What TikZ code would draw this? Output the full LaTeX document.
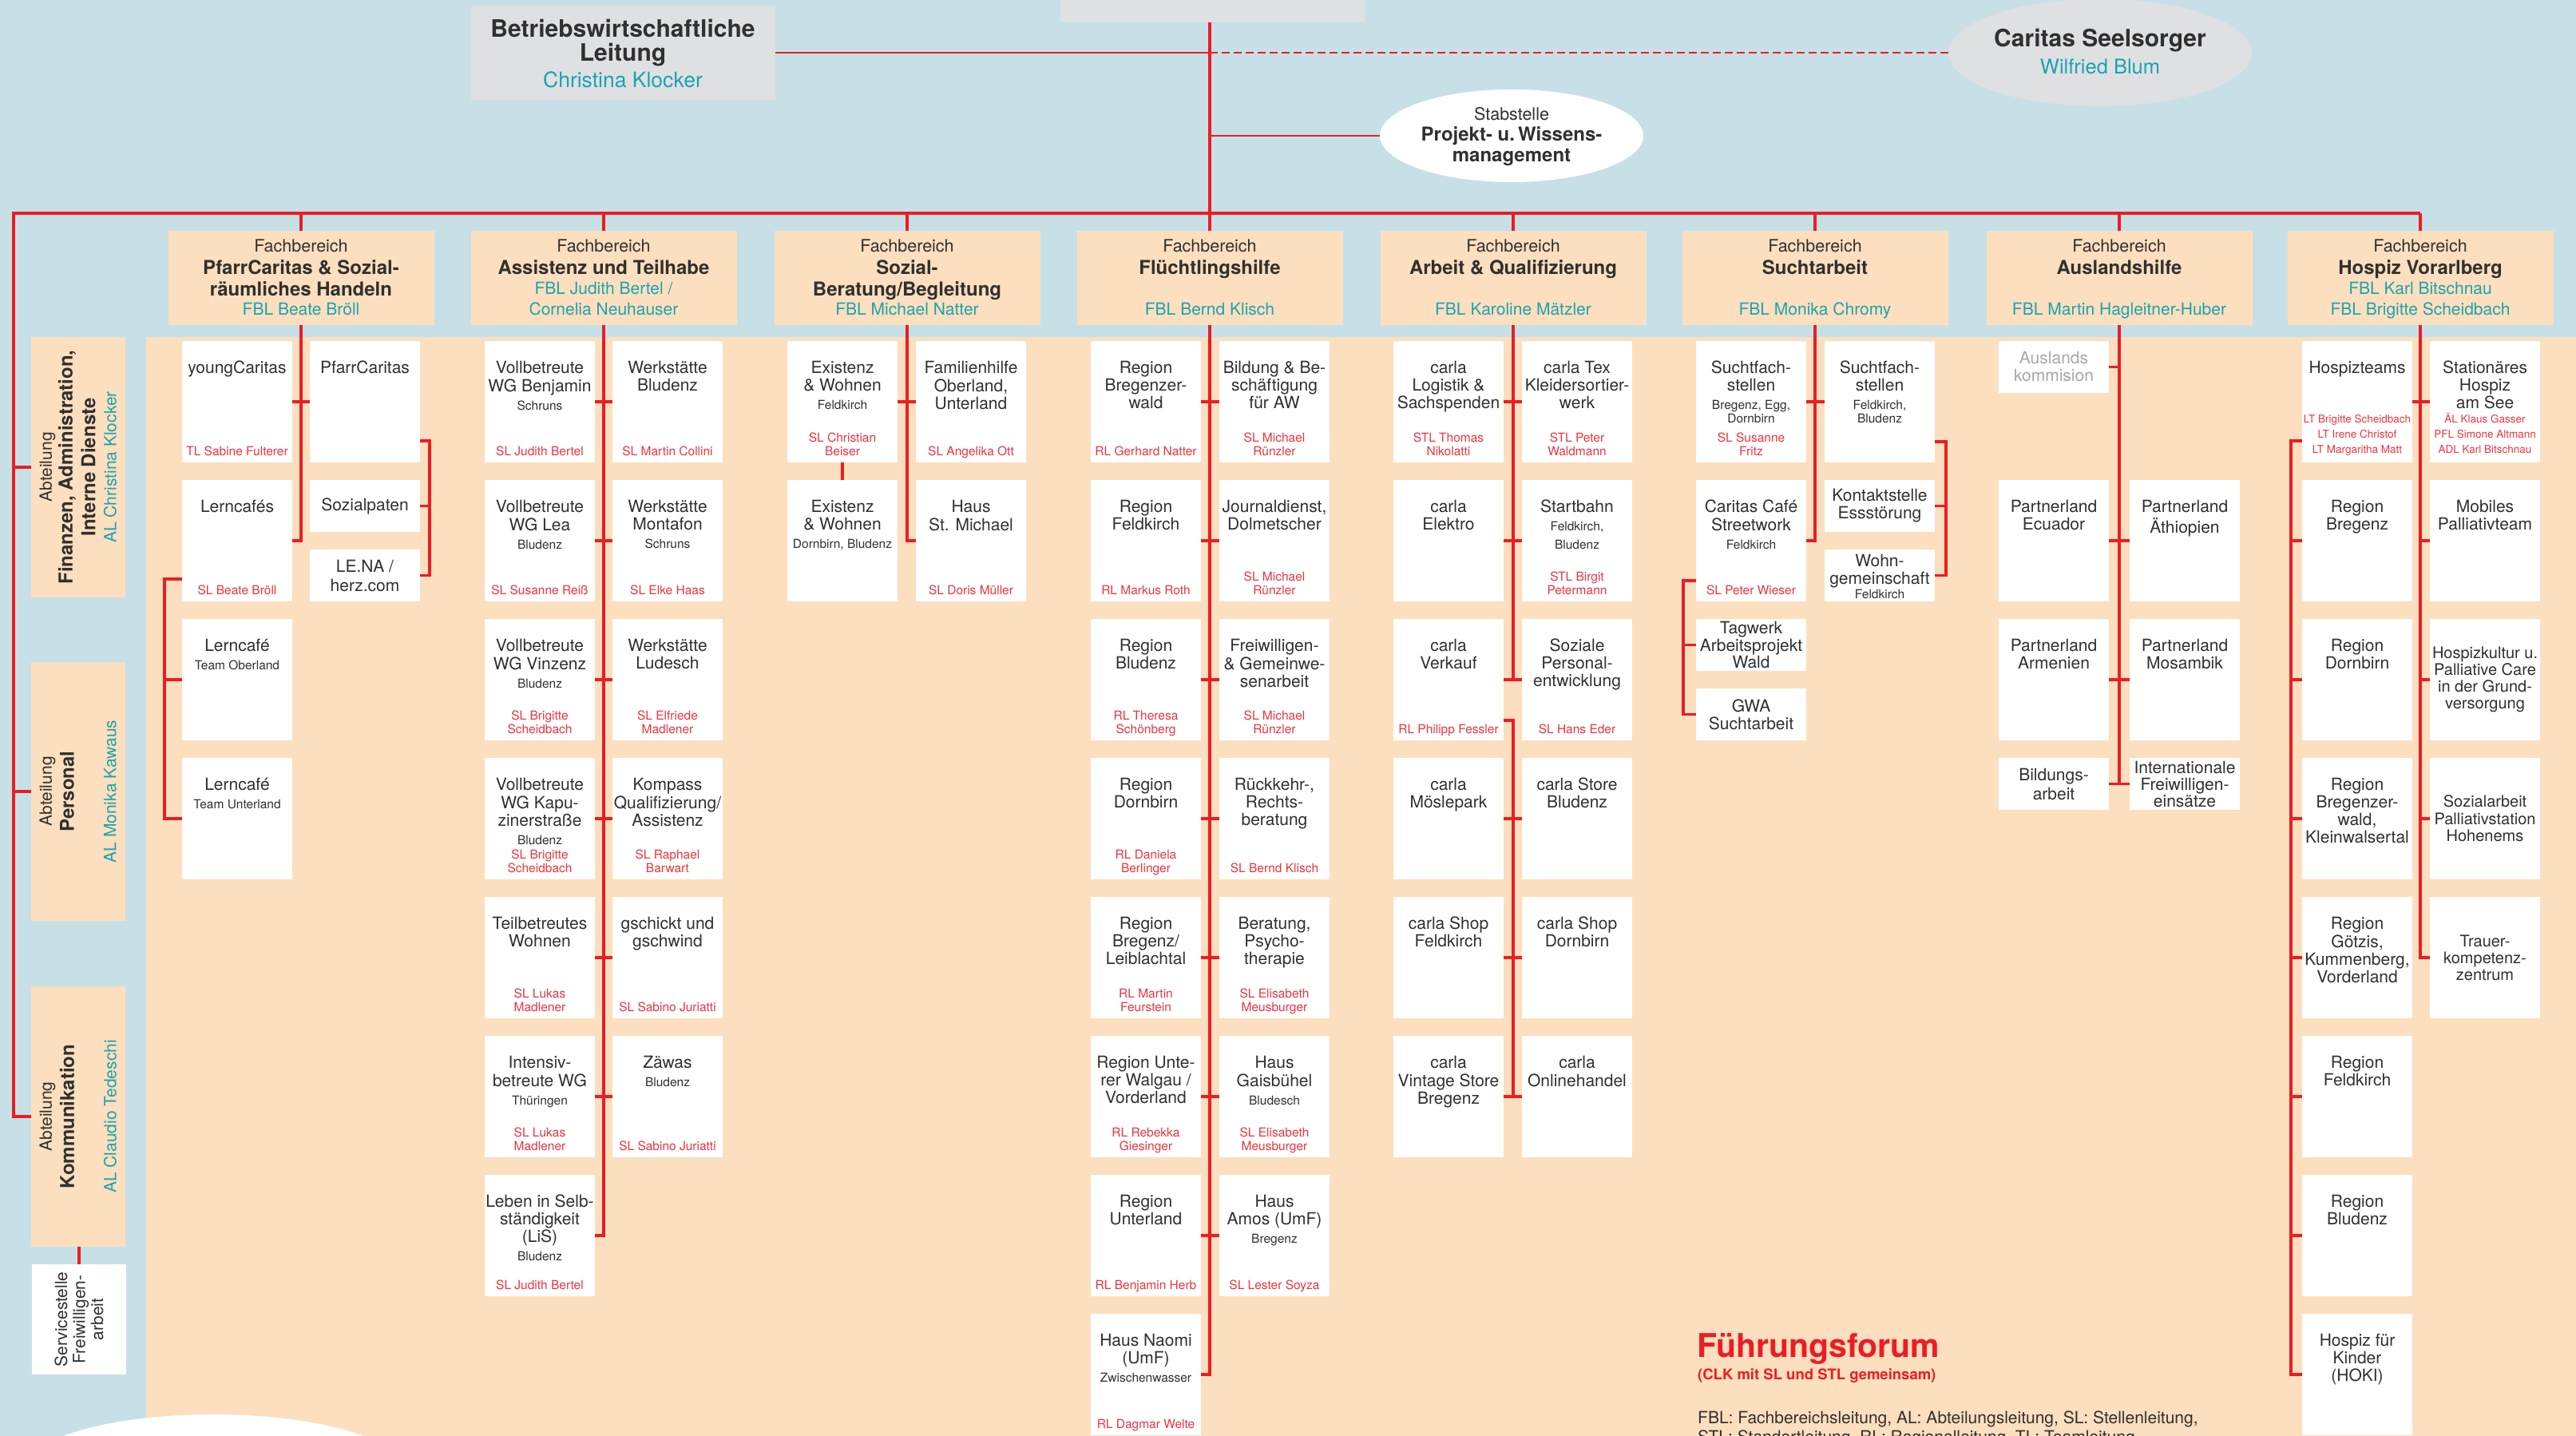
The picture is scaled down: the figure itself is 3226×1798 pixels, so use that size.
\documentclass[tikz,border=0pt]{standalone}
\usepackage{fontspec}
\setmainfont{TeX Gyre Heros}
\usetikzlibrary{shapes.geometric}
\definecolor{bgblue}{HTML}{C7E0E7}
\definecolor{peach}{HTML}{FCDFBE}
\definecolor{greybox}{HTML}{DFE0E2}
\definecolor{cred}{HTML}{ED1C24}
\definecolor{nred}{HTML}{EE3340}
\definecolor{tealtx}{HTML}{1BA3B1}
\definecolor{ink}{HTML}{303030}
\definecolor{faint}{HTML}{A5A8AB}
\tikzset{
  cellbox/.style={fill=white, draw=none, minimum width=138, inner sep=0, outer sep=0},
  ttl/.style={font=\fontsize{21}{22}\selectfont, text=ink, align=center, inner sep=0},
  subt/.style={font=\fontsize{15.5}{17}\selectfont, text=ink, align=center, inner sep=0},
  nm/.style={font=\fontsize{15.5}{17}\selectfont, text=nred, align=center, inner sep=0},
  nmsmall/.style={font=\fontsize{13.5}{19}\selectfont, text=nred, align=center, inner sep=0},
  link/.style={draw=cred, line width=3.5},
  buslink/.style={draw=cred, line width=4.5},
  toplink/.style={draw=cred, line width=2.5},
  fbbox/.style={fill=peach, minimum width=333, minimum height=118, inner sep=0},
  fbsmall/.style={font=\fontsize{21.5}{24}\selectfont, text=ink, inner sep=0},
  fbtitle/.style={font=\bfseries\fontsize{24}{27}\selectfont, text=ink, align=center, inner sep=0},
  fbl/.style={font=\fontsize{21}{26.5}\selectfont, text=tealtx, align=center, inner sep=0},
  abtbox/.style={fill=peach, minimum width=118, inner sep=0},
  abtreg/.style={font=\fontsize{21}{22}\selectfont, text=ink, rotate=90, inner sep=0},
  abtbold/.style={font=\bfseries\fontsize{24}{26}\selectfont, text=ink, rotate=90, inner sep=0},
  abtal/.style={font=\fontsize{21}{22}\selectfont, text=tealtx, rotate=90, inner sep=0},
}
% cell: name, cx, top, height, title, red
\newcommand\ocell[6]{%
  \node[cellbox, minimum height=#4] (#1) at (#2,#3+#4/2) {};
  \node[ttl, anchor=north] (#1t) at (#2,#3+24.6) {\strut#5\strut};
  \if\relax\detokenize{#6}\relax\else
  \node[nm, anchor=south] at (#2,#3+#4-3) {\strut#6\strut};\fi}
% sub text below title
\newcommand\osub[3][]{%
  \node[subt, anchor=north, yshift=-4pt, #1] at (#2t.south) {\strut#3\strut};}
% centered cell
\newcommand\ocellc[6][]{%
  \node[cellbox, ttl, minimum height=#5, #1] (#2) at (#3,#4+#5/2) {#6};}
% Fachbereich box
\newcommand\ofb[4]{%
  \node[fbbox] (#1) at (#2,348) {};
  \node[fbsmall, anchor=base] at (#2,315) {Fachbereich};
  \node[fbtitle, anchor=north] at (#2,324.1) {\strut#3\strut};
  \node[fbl, anchor=south] at (#2,402.9) {\strut#4\strut};}

\begin{document}
\begin{tikzpicture}[x=1pt,y=-1pt]
\useasboundingbox (0,0) rectangle (3226,1798);
\fill[bgblue] (0,0) rectangle (3226,1798);
\fill[peach] (183,422) rectangle (3226,1798);
\fill[white] (267,1838) ellipse [x radius=234, y radius=67];

% ---------- top ----------
\node[fill=greybox, minimum width=381, minimum height=28, inner sep=0] (gf) at (1518.5,14) {};
\node[fill=greybox, minimum width=381, minimum height=118, inner sep=0] (bwl) at (780,66) {};
\node[anchor=base, font=\bfseries\fontsize{30}{31}\selectfont, text=ink, inner sep=0] at (780,47) {Betriebswirtschaftliche};
\node[anchor=base, font=\bfseries\fontsize{30}{31}\selectfont, text=ink, inner sep=0] at (780,77) {Leitung};
\node[anchor=base, font=\fontsize{26.5}{28}\selectfont, text=tealtx, inner sep=0] at (780,110) {Christina Klocker};

\node[ellipse, fill=greybox, minimum width=380, minimum height=134, inner sep=0] (cs) at (2630,66) {};
\node[anchor=base, font=\bfseries\fontsize{30}{31}\selectfont, text=ink, inner sep=0] at (2630,58.6) {Caritas Seelsorger};
\node[anchor=base, font=\fontsize{25.5}{27}\selectfont, text=tealtx, inner sep=0] at (2630,93) {Wilfried Blum};

\node[ellipse, fill=white, minimum width=330, minimum height=116, inner sep=0] (pw) at (1893,170) {};
\node[anchor=base, font=\fontsize{21.5}{23}\selectfont, text=ink, inner sep=0] at (1893,151) {Stabstelle};
\node[anchor=base, font=\bfseries\fontsize{24}{26.5}\selectfont, text=ink, inner sep=0] at (1893,176.6) {Projekt- u.\,Wissens-};
\node[anchor=base, font=\bfseries\fontsize{24}{26.5}\selectfont, text=ink, inner sep=0] at (1893,203) {management};

% ---------- Fachbereiche ----------
\ofb{fb1}{377}{PfarrCaritas \& Sozial-\\räumliches Handeln}{FBL Beate Bröll}
\ofb{fb2}{756}{Assistenz und Teilhabe}{FBL Judith Bertel /\\Cornelia Neuhauser}
\ofb{fb3}{1136}{Sozial-\\Beratung/Begleitung}{FBL Michael Natter}
\ofb{fb4}{1515}{Flüchtlingshilfe}{FBL Bernd Klisch}
\ofb{fb5}{1895}{Arbeit \& Qualifizierung}{FBL Karoline Mätzler}
\ofb{fb6}{2273}{Suchtarbeit}{FBL Monika Chromy}
\ofb{fb7}{2654}{Auslandshilfe}{FBL Martin Hagleitner-Huber}
\ofb{fb8}{3031}{Hospiz Vorarlberg}{FBL Karl Bitschnau\\FBL Brigitte Scheidbach}

% ---------- Abteilungen ----------
\node[abtbox, minimum height=326] (fin) at (98,585) {};
\node[abtreg] at (59.5,585) {Abteilung};
\node[abtbold] at (84,585) {Finanzen, Administration,};
\node[abtbold] at (110.5,585) {Interne Dienste};
\node[abtal] at (138,585) {AL Christina Klocker};

\node[abtbox, minimum height=324] (pers) at (98,991) {};
\node[abtreg] at (59.5,991) {Abteilung};
\node[abtbold] at (84,991) {Personal};
\node[abtal] at (138,991) {AL Monika Kawaus};

\node[abtbox, minimum height=326] (komm) at (98,1398) {};
\node[abtreg] at (59.5,1398) {Abteilung};
\node[abtbold] at (84,1398) {Kommunikation};
\node[abtal] at (138,1398) {AL Claudio Tedeschi};

\node[fill=white, minimum width=118, minimum height=138, inner sep=0] (serv) at (99,1652) {};
\node[rotate=90, align=center, font=\fontsize{21}{22.5}\selectfont, text=ink, inner sep=0] at (99,1652) {Servicestelle\\Freiwilligen-\\arbeit};

% ---------- FB1 PfarrCaritas ----------
\ocell{pa1}{297}{427}{152}{youngCaritas}{TL Sabine Fulterer}
\ocell{pb1}{457}{427}{152}{PfarrCaritas}{}
\ocell{pa2}{297}{601}{152}{Lerncafés}{SL Beate Bröll}
\ocellc{pb2}{457}{601}{65}{Sozialpaten}
\ocellc[font=\fontsize{21}{24}\selectfont]{pb3}{457}{688}{65}{LE.NA /\\herz.com}
\ocell{pa3}{297}{775}{152}{Lerncafé}{}\osub{pa3}{Team Oberland}
\ocell{pa4}{297}{949}{152}{Lerncafé}{}\osub{pa4}{Team Unterland}

% ---------- FB2 Assistenz ----------
\ocell{aa1}{676}{427}{152}{Vollbetreute\\WG Benjamin}{SL Judith Bertel}\osub{aa1}{Schruns}
\ocell{ab1}{836}{427}{152}{Werkstätte\\Bludenz}{SL Martin Collini}
\ocell{aa2}{676}{601}{152}{Vollbetreute\\WG Lea}{SL Susanne Reiß}\osub{aa2}{Bludenz}
\ocell{ab2}{836}{601}{152}{Werkstätte\\Montafon}{SL Elke Haas}\osub{ab2}{Schruns}
\ocell{aa3}{676}{775}{152}{Vollbetreute\\WG Vinzenz}{SL Brigitte\\Scheidbach}\osub{aa3}{Bludenz}
\ocell{ab3}{836}{775}{152}{Werkstätte\\Ludesch}{SL Elfriede\\Madlener}
\ocell{aa4}{676}{949}{152}{Vollbetreute\\WG Kapu-\\zinerstraße}{SL Brigitte\\Scheidbach}\osub{aa4}{Bludenz}
\ocell{ab4}{836}{949}{152}{Kompass\\Qualifizierung/\\Assistenz}{SL Raphael\\Barwart}
\ocell{aa5}{676}{1123}{152}{Teilbetreutes\\Wohnen}{SL Lukas\\Madlener}
\ocell{ab5}{836}{1123}{152}{gschickt und\\gschwind}{SL Sabino Juriatti}
\ocell{aa6}{676}{1297}{152}{Intensiv-\\betreute WG}{SL Lukas\\Madlener}\osub{aa6}{Thüringen}
\ocell{ab6}{836}{1297}{152}{Zäwas}{SL Sabino Juriatti}\osub{ab6}{Bludenz}
\ocell{aa7}{676}{1471}{152}{Leben in Selb-\\ständigkeit\\(LiS)}{SL Judith Bertel}\osub{aa7}{Bludenz}

% ---------- FB3 Sozial-Beratung ----------
\ocell{ba1}{1055}{427}{152}{Existenz\\\& Wohnen}{SL Christian\\Beiser}\osub{ba1}{Feldkirch}
\ocell{bb1}{1216}{427}{152}{Familienhilfe\\Oberland,\\Unterland}{SL Angelika Ott}
\ocell{ba2}{1055}{601}{152}{Existenz\\\& Wohnen}{}\osub{ba2}{Dornbirn, Bludenz}
\ocell{bb2}{1216}{601}{152}{Haus\\St. Michael}{SL Doris Müller}

% ---------- FB4 Flüchtlingshilfe ----------
\ocell{ca1}{1435}{427}{152}{Region\\Bregenzer-\\wald}{RL Gerhard Natter}
\ocell{cb1}{1596}{427}{152}{Bildung \& Be-\\schäftigung\\für AW}{SL Michael\\Rünzler}
\ocell{ca2}{1435}{601}{152}{Region\\Feldkirch}{RL Markus Roth}
\ocell{cb2}{1596}{601}{152}{Journaldienst,\\Dolmetscher}{SL Michael\\Rünzler}
\ocell{ca3}{1435}{775}{152}{Region\\Bludenz}{RL Theresa\\Schönberg}
\ocell{cb3}{1596}{775}{152}{Freiwilligen-\\\& Gemeinwe-\\senarbeit}{SL Michael\\Rünzler}
\ocell{ca4}{1435}{949}{152}{Region\\Dornbirn}{RL Daniela\\Berlinger}
\ocell{cb4}{1596}{949}{152}{Rückkehr-,\\Rechts-\\beratung}{SL Bernd Klisch}
\ocell{ca5}{1435}{1123}{152}{Region\\Bregenz/\\Leiblachtal}{RL Martin\\Feurstein}
\ocell{cb5}{1596}{1123}{152}{Beratung,\\Psycho-\\therapie}{SL Elisabeth\\Meusburger}
\ocell{ca6}{1435}{1297}{152}{Region Unte-\\rer Walgau /\\Vorderland}{RL Rebekka\\Giesinger}
\ocell{cb6}{1596}{1297}{152}{Haus\\Gaisbühel}{SL Elisabeth\\Meusburger}\osub{cb6}{Bludesch}
\ocell{ca7}{1435}{1471}{152}{Region\\Unterland}{RL Benjamin Herb}
\ocell{cb7}{1596}{1471}{152}{Haus\\Amos (UmF)}{SL Lester Soyza}\osub{cb7}{Bregenz}
\ocell{ca8}{1435}{1645}{152}{Haus Naomi\\(UmF)}{RL Dagmar Welte}\osub{ca8}{Zwischenwasser}

% ---------- FB5 Arbeit ----------
\ocell{da1}{1814}{427}{152}{carla\\Logistik \&\\Sachspenden}{STL Thomas\\Nikolatti}
\ocell{db1}{1975}{427}{152}{carla Tex\\Kleidersortier-\\werk}{STL Peter\\Waldmann}
\ocell{da2}{1814}{601}{152}{carla\\Elektro}{}
\ocell{db2}{1975}{601}{152}{Startbahn}{STL Birgit\\Petermann}\osub[font=\fontsize{15.5}{23}\selectfont, yshift=4pt]{db2}{Feldkirch,\\Bludenz}
\ocell{da3}{1814}{775}{152}{carla\\Verkauf}{RL Philipp Fessler}
\ocell{db3}{1975}{775}{152}{Soziale\\Personal-\\entwicklung}{SL Hans Eder}
\ocell{da4}{1814}{949}{152}{carla\\Möslepark}{}
\ocell{db4}{1975}{949}{152}{carla Store\\Bludenz}{}
\ocell{da5}{1814}{1123}{152}{carla Shop\\Feldkirch}{}
\ocell{db5}{1975}{1123}{152}{carla Shop\\Dornbirn}{}
\ocell{da6}{1814}{1297}{152}{carla\\Vintage Store\\Bregenz}{}
\ocell{db6}{1975}{1297}{152}{carla\\Onlinehandel}{}

% ---------- FB6 Suchtarbeit ----------
\ocell{ea1}{2193}{427}{152}{Suchtfach-\\stellen}{SL Susanne\\Fritz}\osub{ea1}{Bregenz, Egg,\\Dornbirn}
\ocell{eb1}{2354}{427}{152}{Suchtfach-\\stellen}{}\osub{eb1}{Feldkirch,\\Bludenz}
\ocell{ea2}{2193}{601}{152}{Caritas Café\\Streetwork}{SL Peter Wieser}\osub{ea2}{Feldkirch}
\ocellc{eb2}{2354}{601}{65}{Kontaktstelle\\Essstörung}
\node[cellbox, minimum height=65] (eb3) at (2354,720.5) {};
\node[ttl, anchor=north] at (2354,694) {\strut Wohn-\\gemeinschaft\strut};
\node[subt, anchor=base] at (2354,749.5) {Feldkirch};
\ocellc[font=\fontsize{21}{21.5}\selectfont]{ea3}{2193}{775}{65}{Tagwerk\\Arbeitsprojekt\\Wald}
\ocellc{ea4}{2193}{862}{65}{GWA\\Suchtarbeit}

% ---------- FB7 Auslandshilfe ----------
\ocellc[text=faint]{ga1}{2572}{427}{65}{Auslands\\kommision}
\ocell{ga2}{2572}{601}{152}{Partnerland\\Ecuador}{}
\ocell{gb2}{2736}{601}{152}{Partnerland\\Äthiopien}{}
\ocell{ga3}{2572}{775}{152}{Partnerland\\Armenien}{}
\ocell{gb3}{2736}{775}{152}{Partnerland\\Mosambik}{}
\ocellc[font=\fontsize{21}{24}\selectfont]{ga4}{2572}{949}{65}{Bildungs-\\arbeit}
\ocellc[font=\fontsize{21}{21}\selectfont]{gb4}{2736}{949}{65}{Internationale\\Freiwilligen-\\einsätze}

% ---------- FB8 Hospiz ----------
\ocell{ha1}{2952}{427}{152}{Hospizteams}{}
\node[nmsmall, anchor=south] at (2952,573.7) {\strut LT Brigitte Scheidbach\\LT Irene Christof\\LT Margaritha Matt\strut};
\ocell{hb1}{3112}{427}{152}{Stationäres\\Hospiz\\am See}{}
\node[nmsmall, anchor=south] at (3112,573.7) {\strut ÄL Klaus Gasser\\PFL Simone Altmann\\ADL Karl Bitschnau\strut};
\ocell{ha2}{2952}{601}{152}{Region\\Bregenz}{}
\ocell{hb2}{3112}{601}{152}{Mobiles\\Palliativteam}{}
\ocell{ha3}{2952}{775}{152}{Region\\Dornbirn}{}
\ocellc[font=\fontsize{20}{21}\selectfont]{hb3}{3112}{775}{152}{Hospizkultur u.\\Palliative Care\\in der Grund-\\versorgung}
\ocell{ha4}{2952}{949}{152}{Region\\Bregenzer-\\wald,\\Kleinwalsertal}{}
\ocellc[font=\fontsize{20}{21.5}\selectfont]{hb4}{3112}{949}{152}{Sozialarbeit\\Palliativstation\\Hohenems}
\ocell{ha5}{2952}{1123}{152}{Region\\Götzis,\\Kummenberg,\\Vorderland}{}
\ocellc[font=\fontsize{20}{21}\selectfont]{hb5}{3112}{1123}{152}{Trauer-\\kompetenz-\\zentrum}
\ocell{ha6}{2952}{1297}{152}{Region\\Feldkirch}{}
\ocell{ha7}{2952}{1471}{152}{Region\\Bludenz}{}
\ocell{ha8}{2952}{1645}{152}{Hospiz für\\Kinder\\(HOKI)}{}

% ---------- legend ----------
\node[anchor=base west, font=\bfseries\fontsize{41}{44}\selectfont, text=cred, inner sep=0] (ff) at (2125,1699) {Führungsforum};
\node[anchor=base west, font=\bfseries\fontsize{18.5}{20}\selectfont, text=cred, inner sep=0] (ffs) at (2126,1727) {(CLK mit SL und STL gemeinsam)};
\node[anchor=base west, font=\fontsize{21}{25}\selectfont, text=ink, inner sep=0] (leg1) at (2126,1782) {FBL: Fachbereichsleitung, AL: Abteilungsleitung, SL: Stellenleitung,};
\node[anchor=base west, font=\fontsize{21}{25}\selectfont, text=ink, inner sep=0] (leg2) at (2126,1806) {STL: Standortleitung, RL: Regionalleitung, TL: Teamleitung};

% ---------- connectors: top ----------
\draw[link] (gf.south -| fb4.north) -- (fb4.north);
\draw[toplink] (bwl.east) -- (bwl.east -| fb4.north);
\draw[toplink, dash pattern=on 10pt off 5pt] (bwl.east -| fb4.north) -- (cs.west);
\draw[toplink] (pw.west -| fb4.north) -- (pw.west);
\coordinate (busL) at (17,267);
\draw[buslink] (fb8.north |- busL) -- (busL) |- (komm.west);
\foreach \k in {1,...,8} {\draw[link] (fb\k.north |- busL) -- (fb\k.north);}
\draw[link] (busL |- fin.west) -- (fin.west);
\draw[link] (busL |- pers.west) -- (pers.west);
\draw[link] (serv.north |- komm.south) -- (serv.north);

% FB1
\draw[link] (fb1.south) -- (fb1.south |- pa2.east) -- (pa2.east);
\draw[link] (pa1.east) -- (pb1.west);
\coordinate (k1) at (538,552);
\draw[link] (pb1.east |- k1) -- (k1) -- (k1 |- pb3.east) -- (pb3.east);
\draw[link] (pb2.east) -- (k1 |- pb2.east);
\coordinate (k2) at (206,725);
\draw[link] (pa2.west |- k2) -- (k2) -- (k2 |- pa4.west) -- (pa4.west);
\draw[link] (k2 |- pa3.west) -- (pa3.west);
% FB2
\draw[link] (fb2.south) -- (fb2.south |- aa7.east) -- (aa7.east);
\foreach \r in {1,...,6} {\draw[link] (aa\r.east) -- (ab\r.west);}
% FB3
\draw[link] (fb3.south) -- (fb3.south |- bb2.west) -- (bb2.west);
\draw[link] (ba1.east) -- (bb1.west);
\draw[link] (ba1.south) -- (ba2.north);
% FB4
\draw[link] (fb4.south) -- (fb4.south |- ca8.east) -- (ca8.east);
\foreach \r in {1,...,7} {\draw[link] (ca\r.east) -- (cb\r.west);}
% FB5
\draw[link] (fb5.south) -- (fb5.south |- da3.east);
\foreach \r in {1,...,6} {\draw[link] (da\r.east) -- (db\r.west);}
\coordinate (k5) at (1895,902);
\draw[link] (da3.east |- k5) -- (k5) -- (k5 |- db6.west);
% FB6
\draw[link] (fb6.south) -- (fb6.south |- ea2.east) -- (ea2.east);
\draw[link] (ea1.east) -- (eb1.west);
\coordinate (k6) at (2437,553);
\draw[link] (eb1.east |- k6) -- (k6) -- (k6 |- eb3.east) -- (eb3.east);
\draw[link] (eb2.east) -- (k6 |- eb2.east);
\coordinate (k7) at (2108,727);
\draw[link] (ea2.west |- k7) -- (k7) -- (k7 |- ea4.west) -- (ea4.west);
\draw[link] (k7 |- ea3.west) -- (ea3.west);
% FB7
\draw[link] (fb7.south) -- (fb7.south |- ga4.east);
\draw[link] (ga1.east) -- (fb7.south |- ga1.east);
\foreach \r in {2,3,4} {\draw[link] (ga\r.east) -- (gb\r.west);}
% FB8
\draw[link] (fb8.south) -- (fb8.south |- hb5.west) -- (hb5.west);
\draw[link] (ha1.east) -- (hb1.west);
\foreach \r in {2,3,4} {\draw[link] (fb8.south |- hb\r.west) -- (hb\r.west);}
\coordinate (k8) at (2869,552);
\draw[link] (ha1.west |- k8) -- (k8) -- (k8 |- ha8.west) -- (ha8.west);
\foreach \r in {2,...,7} {\draw[link] (k8 |- ha\r.west) -- (ha\r.west);}
\end{tikzpicture}
\end{document}
